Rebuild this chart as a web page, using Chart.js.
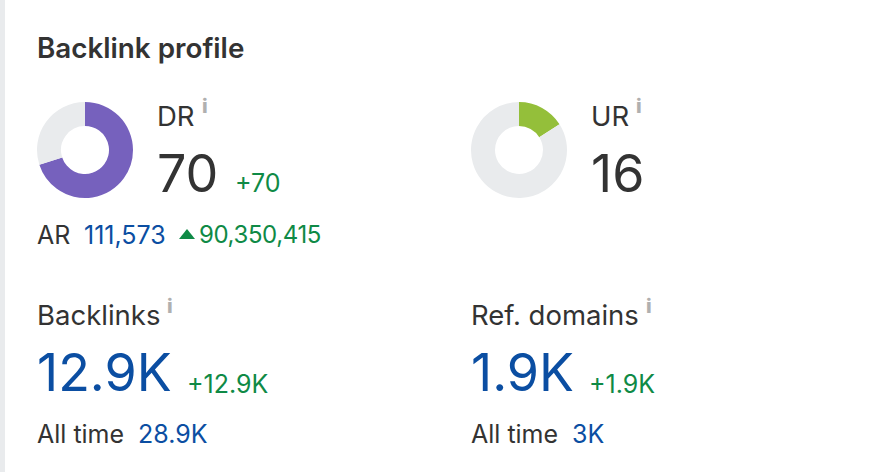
<!DOCTYPE html>
<html>
<head>
<meta charset="utf-8">
<script src="https://cdn.jsdelivr.net/npm/chart.js@4"></script>
<style>
html, body { margin: 0; padding: 0; background: #fff; }
body { width: 880px; height: 472px; position: relative; overflow: hidden; font-family: Inter, sans-serif; color: #333; }
#edge { position: absolute; left: 0; top: 0; width: 5px; height: 472px; background: #e9ebed; }
.t { position: absolute; white-space: nowrap; line-height: 1; }
.big { font-size: 52px; font-weight: 400; }
.blue { color: #0b4ea2; }
.green { color: #0f8a46; }
.info { color: #b0b0b0; font-weight: 800; font-size: 20px; }
canvas { position: absolute; }
#arrow { position: absolute; left: 179px; top: 229px; width: 0; height: 0; border-left: 8px solid transparent; border-right: 8px solid transparent; border-bottom: 10px solid #0f8a46; }
</style>
</head>
<body>
<div id="edge"></div>
<div class="t" style="left:37px;top:35px;font-size:27.8px;font-weight:600">Backlink profile</div>

<canvas id="drChart" width="100" height="100" style="left:35px;top:100px;width:100px;height:100px"></canvas>
<div class="t" style="left:157px;top:103px;font-size:27.5px">DR</div>
<div class="t info" style="left:202px;top:96px">i</div>
<div class="t big" style="left:157px;top:148px">70</div>
<div class="t green" style="left:235px;top:171px;font-size:25px">+70</div>
<div class="t" style="left:37px;top:223px;font-size:25px">AR</div>
<div class="t blue" style="left:84px;top:223px;font-size:25px">111,573</div>
<div id="arrow"></div>
<div class="t green" style="left:199px;top:223px;font-size:24px;letter-spacing:-0.4px">90,350,415</div>

<canvas id="urChart" width="100" height="100" style="left:469px;top:100px;width:100px;height:100px"></canvas>
<div class="t" style="left:591px;top:103px;font-size:27.5px">UR</div>
<div class="t info" style="left:636px;top:96px">i</div>
<div class="t big" style="left:591px;top:148px">16</div>

<div class="t" style="left:37px;top:302px;font-size:27.5px">Backlinks</div>
<div class="t info" style="left:167px;top:296px">i</div>
<div class="t big blue" style="left:37px;top:347px">12.9K</div>
<div class="t green" style="left:187px;top:372px;font-size:25px">+12.9K</div>
<div class="t" style="left:37px;top:422px;font-size:25px">All time</div>
<div class="t blue" style="left:138px;top:422px;font-size:25px">28.9K</div>

<div class="t" style="left:471px;top:302px;font-size:27.5px">Ref. domains</div>
<div class="t info" style="left:646px;top:296px">i</div>
<div class="t big blue" style="left:471px;top:347px">1.9K</div>
<div class="t green" style="left:589px;top:372px;font-size:25px">+1.9K</div>
<div class="t" style="left:471px;top:422px;font-size:25px">All time</div>
<div class="t blue" style="left:572px;top:422px;font-size:25px">3K</div>

<script>
var scoreLabels = ['Score', 'Remaining'];
var drValues = [70, 30];
var urValues = [16, 84];

function drawDonut(id, values, color) {
    var ctx = document.getElementById(id).getContext('2d');
    return new Chart(ctx, {
        type: 'doughnut',
        data: {
            labels: scoreLabels,
            datasets: [{
                data: values,
                backgroundColor: [color, '#e9ebed'],
                borderWidth: 0
            }]
        },
        options: {
            responsive: false,
            animation: false,
            cutout: '50%',
            layout: { padding: 2 },
            plugins: {
                legend: { display: false },
                tooltip: { enabled: false }
            }
        }
    });
}

drawDonut('drChart', drValues, '#7661bd');
drawDonut('urChart', urValues, '#94bf3a');
</script>
</body>
</html>
